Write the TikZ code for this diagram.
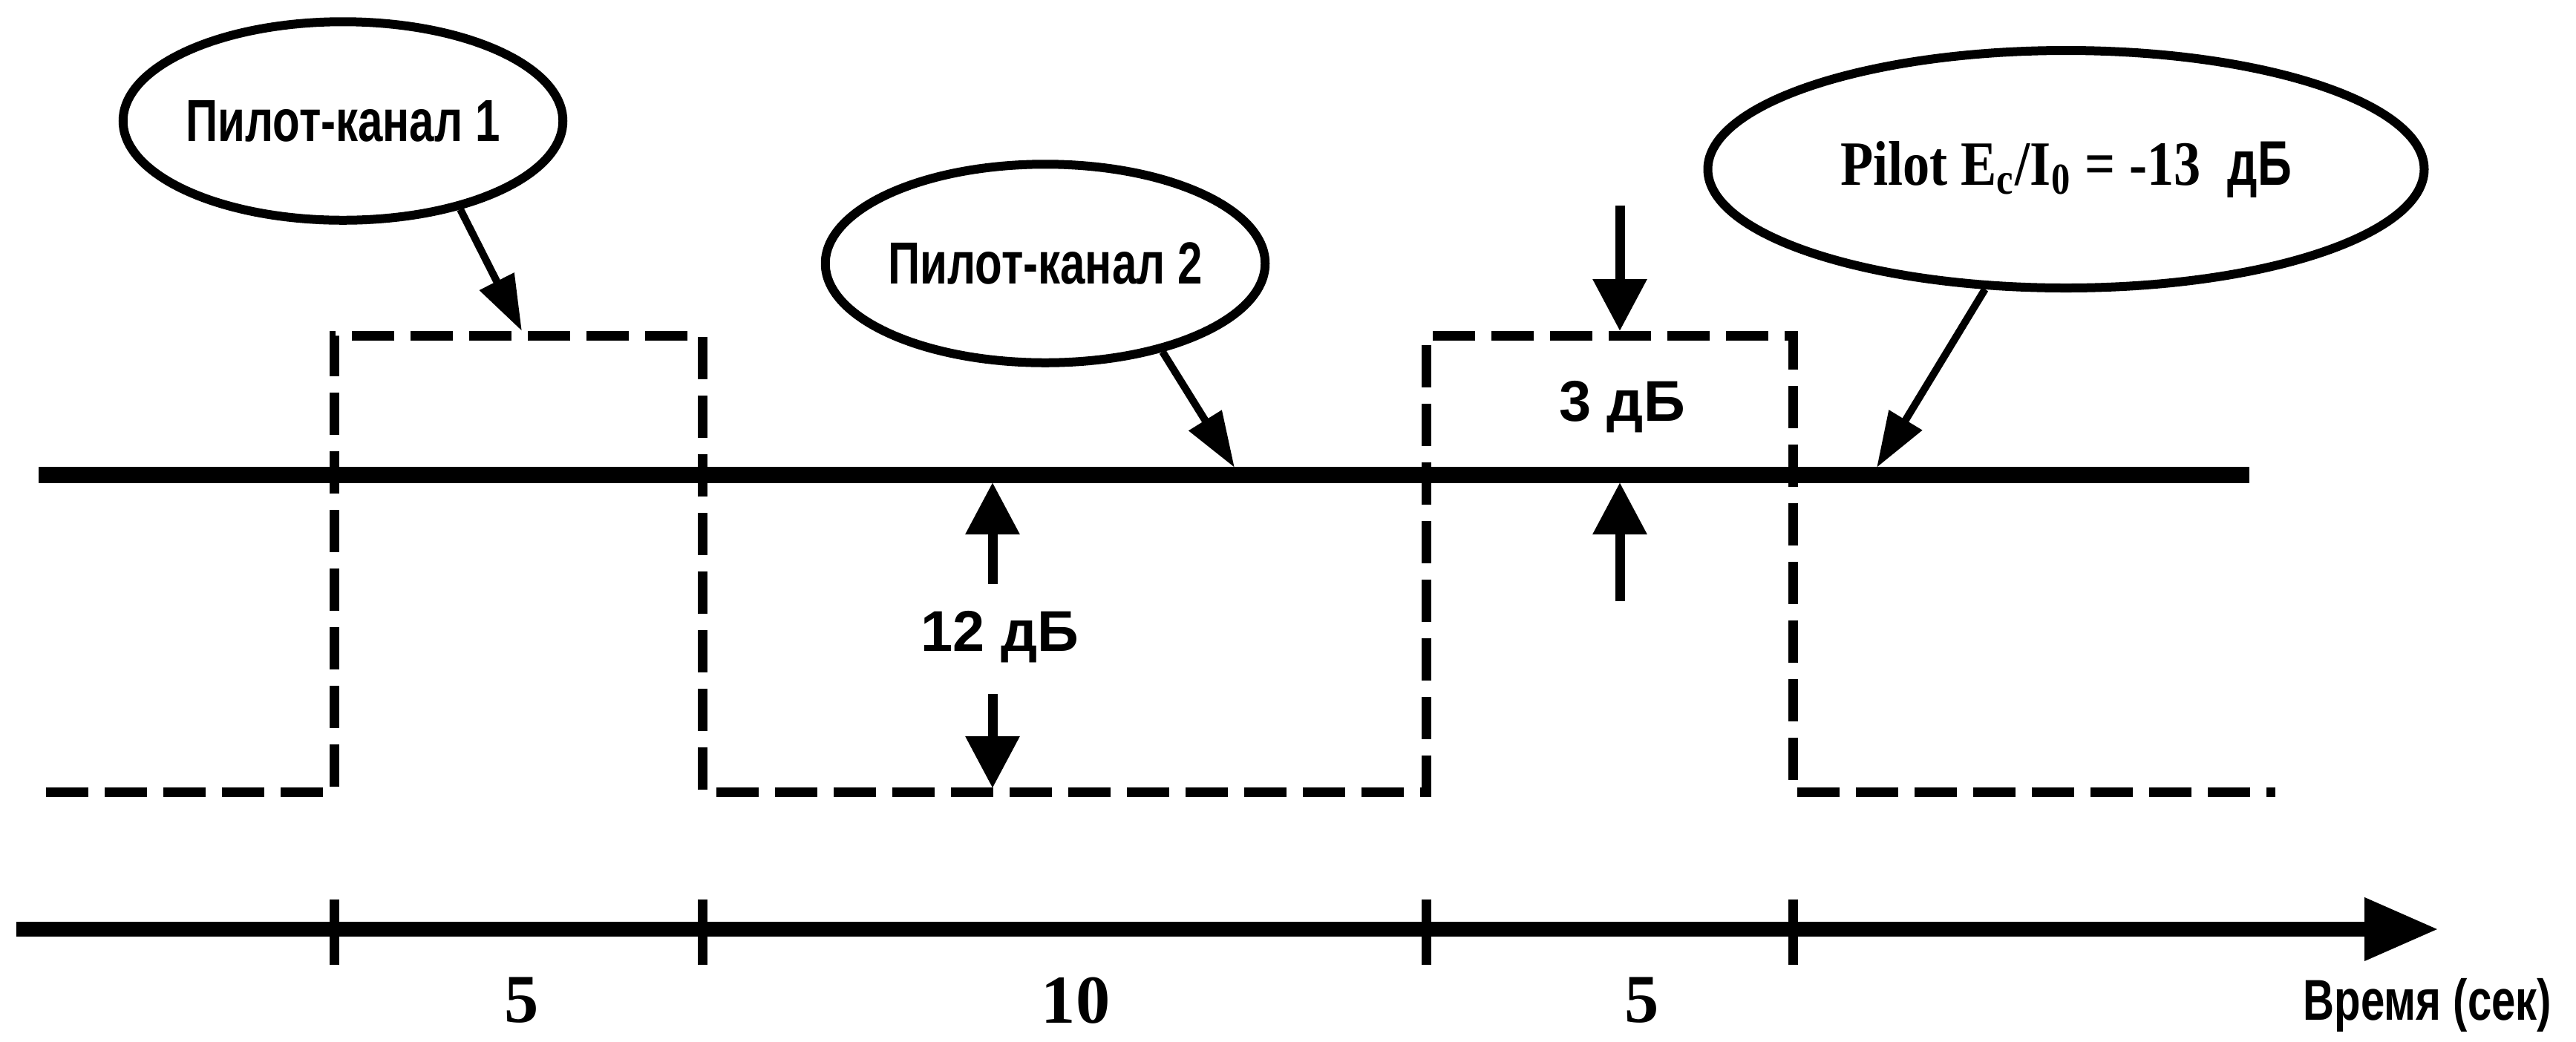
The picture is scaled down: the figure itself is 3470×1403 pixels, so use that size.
\documentclass[tikz,border=0pt]{standalone}
\usepackage{fontspec}
\setmainfont{Liberation Serif}
\newfontfamily\narrowsans[FakeStretch=0.75]{Liberation Sans}
\newfontfamily\narrowserif[FakeStretch=0.85]{Liberation Serif}
\newfontfamily\labelsans{Liberation Sans}
\usetikzlibrary{arrows.meta,shapes.geometric}

\tikzset{
  callout/.style={ellipse, draw, line width=2.4pt, inner xsep=-5pt, inner ysep=0pt,
    minimum width=118.5pt, minimum height=53.5pt,
    font=\narrowsans\bfseries\fontsize{16}{18}\selectfont},
  signal/.style={line width=2.6pt, dash pattern=on 11.4pt off 4.4pt},
  pointer/.style={line width=2pt, -{Triangle[length=15pt,width=10pt]}},
  dimarrow/.style={line width=2.6pt, -{Triangle[length=14pt,width=14pt]}},
  dblabel/.style={font=\labelsans\bfseries\fontsize{15.5}{17}\selectfont},
  numlabel/.style={inner sep=1pt, font=\bfseries\fontsize{18.5}{20}\selectfont},
}

\begin{document}
\begin{tikzpicture}[x=0.2pt, y=-0.2pt]
    \useasboundingbox (0,0) rectangle (3470,1403);

    % Level of pilot channel 2 (solid)
    \draw[line width=4.4pt] (52,640) -- (3030,640);

    % Level of pilot channel 1, switching up and down (dashed)
    \draw[signal] (62,1067) -| (450,452) -| (946,1067) -| (1921,452) -| (2415,1067) -- (3065,1067);

    % Callouts
    \node[callout] (pilot1) at (462,163) {Пилот-канал 1};
    \node[callout] (pilot2) at (1408,355) {Пилот-канал 2};
    \node[callout, minimum width=193pt, minimum height=64pt,
        font=\narrowserif\bfseries\fontsize{17}{19}\selectfont] (pilotec) at (2783,228)
        {Pilot E\textsubscript{c}/I\textsubscript{0} = -13\ \ {\narrowsans дБ}};

    \coordinate (hit1) at (703,446);
    \coordinate (hit2) at (1663,630);
    \coordinate (hit3) at (2528,630);
    \draw[pointer] (pilot1.-37) -- (hit1);
    \draw[pointer] (pilot2.-37) -- (hit2);
    \draw[pointer] (pilotec.-124) -- (hit3);

    % 3 dB step
    \draw[dimarrow] (2182,277) -- (2182,446);
    \draw[dimarrow] (2182,810) -- (2182,650);
    \node[dblabel] (step3) at (2185,548) {3 дБ};

    % 12 dB step
    \draw[dimarrow] (1337,787) -- (1337,650);
    \draw[dimarrow] (1337,935) -- (1337,1062);
    \node[dblabel] (step12) at (1347,858) {12 дБ};

    % Time axis
    \draw[line width=4pt, -{Triangle[length=20pt,width=16pt]}] (22,1252) -- (3285,1252);
    \foreach \x in {450,946,1921,2415}
        \draw[line width=2.6pt] (\x,1212) -- (\x,1300);

    \node[numlabel] (dur1) at (703,1348) {5};
    \node[numlabel] (dur2) at (1449,1348) {10};
    \node[numlabel] (dur3) at (2212,1348) {5};
    \node[font=\narrowsans\bfseries\fontsize{15.5}{17}\selectfont, anchor=east] (tlabel) at (3455,1354) {Время (сек)};

\end{tikzpicture}
\end{document}
